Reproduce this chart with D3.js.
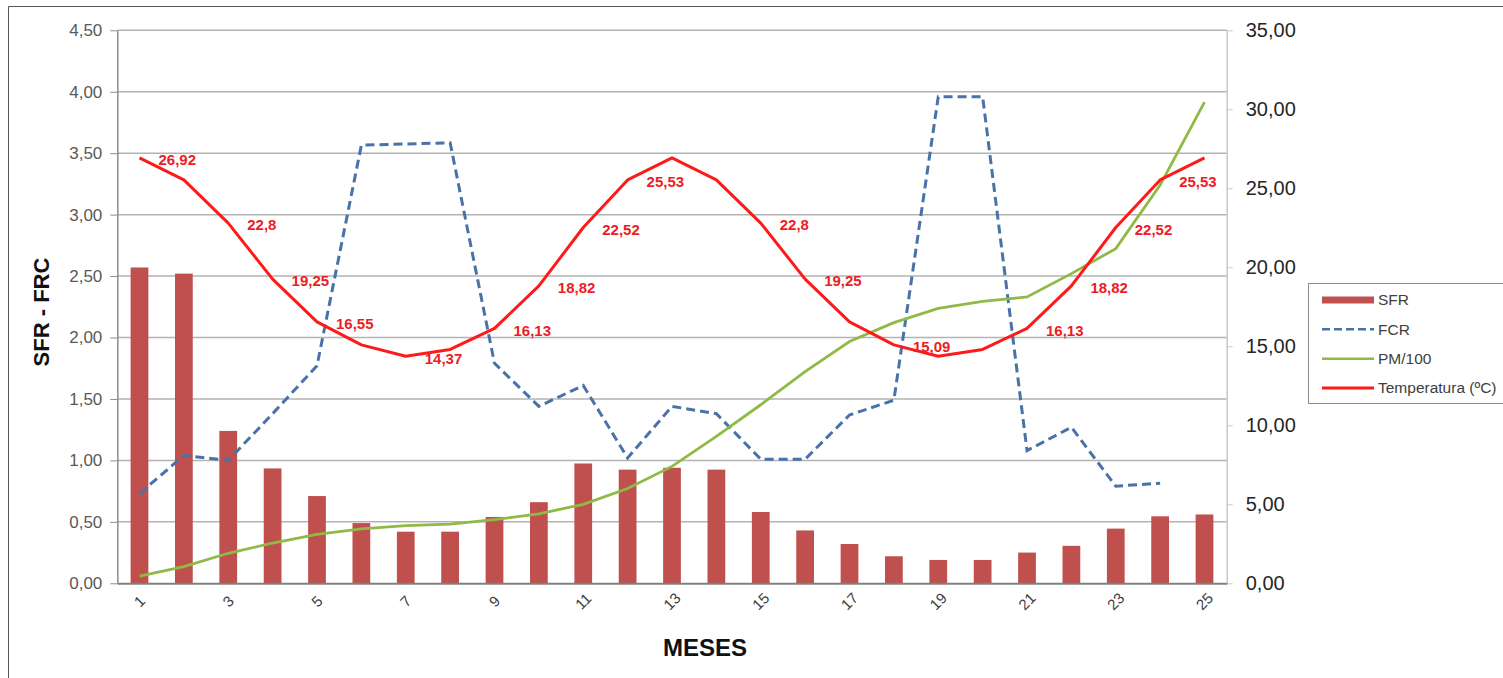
<!DOCTYPE html>
<html>
<head>
<meta charset="utf-8">
<script src="https://cdn.jsdelivr.net/npm/d3@7"></script>
<style>
  html, body { margin: 0; padding: 0; background: #fff; }
  svg { display: block; font-family: "Liberation Sans", Arial, sans-serif; }
</style>
</head>
<body>
<svg id="chart" width="1503" height="678"></svg>
<script>
// ---- data ----
const months = [1,2,3,4,5,6,7,8,9,10,11,12,13,14,15,16,17,18,19,20,21,22,23,24,25];
const sfr = [2.57,2.52,1.24,0.935,0.71,0.49,0.42,0.42,0.54,0.66,0.975,0.925,0.94,0.925,0.58,0.43,0.32,0.22,0.19,0.19,0.25,0.305,0.445,0.545,0.56];
const fcr = [0.73,1.04,1.0,1.38,1.77,3.565,3.575,3.585,1.79,1.44,1.61,1.02,1.44,1.38,1.01,1.01,1.37,1.49,3.96,3.96,1.08,1.27,0.79,0.815,null];
const pm100 = [0.45,1.05,1.9,2.55,3.1,3.45,3.65,3.75,4.03,4.4,5.0,6.0,7.4,9.3,11.3,13.4,15.3,16.5,17.4,17.85,18.12,19.6,21.18,25.2,30.45];
const temperatura = [26.92,25.53,22.8,19.25,16.55,15.09,14.37,14.8,16.13,18.82,22.52,25.53,26.92,25.53,22.8,19.25,16.55,15.09,14.37,14.8,16.13,18.82,22.52,25.53,26.92];
const labeledMonths = [1,3,4,5,7,9,10,11,12,15,16,18,21,22,23,24];
const leftTicks = [0,0.5,1,1.5,2,2.5,3,3.5,4,4.5];
const rightTicks = [0,5,10,15,20,25,30,35];
const xTickLabels = [1,3,5,7,9,11,13,15,17,19,21,23,25];
const seriesNames = ["SFR","FCR","PM/100","Temperatura (ºC)"];
const leftTitle = "SFR - FRC";
const xTitle = "MESES";

// ---- layout ----
const svg = d3.select("#chart");
const plot = {left: 117.3, right: 1226.7, top: 30.3, bottom: 583.3};
const comma = v => d3.format(".2f")(v).replace(".", ",");
const commaRaw = v => String(v).replace(".", ",");

const x = d3.scaleBand().domain(months).range([plot.left, plot.right]).paddingInner(0.6).paddingOuter(0.3);
const xc = d => x(d) + x.bandwidth() / 2;
const yL = d3.scaleLinear().domain([0, 4.5]).range([plot.bottom, plot.top]);
const yR = d3.scaleLinear().domain([0, 35]).range([plot.bottom, plot.top]);

// outer frame
svg.append("path").attr("d", "M8.5,678 L8.5,6.5 L1503,6.5").attr("fill", "none").attr("stroke", "#555").attr("stroke-width", 1);

// gridlines
svg.append("g").selectAll("line").data(leftTicks.filter(t => t > 0)).join("line")
  .attr("x1", plot.left).attr("x2", plot.right)
  .attr("y1", d => yL(d)).attr("y2", d => yL(d))
  .attr("stroke", "#b3b3b3").attr("stroke-width", 1.5);

// bars
svg.append("g").selectAll("rect").data(months).join("rect")
  .attr("x", d => x(d)).attr("width", x.bandwidth())
  .attr("y", (d, i) => yL(sfr[i])).attr("height", (d, i) => plot.bottom - yL(sfr[i]))
  .attr("fill", "#c0504d");

// axes
const gL = svg.append("g").attr("transform", `translate(${plot.left},0)`)
  .call(d3.axisLeft(yL).tickValues(leftTicks).tickFormat(comma).tickSize(7).tickSizeOuter(0).tickPadding(8));
gL.select(".domain").attr("stroke", "#8c8c8c").attr("stroke-width", 1.5);
gL.selectAll(".tick line").attr("stroke", "#8c8c8c");
gL.selectAll("text").attr("font-size", 17).attr("fill", "#595959").attr("font-family", "Liberation Sans, Arial");

const gR = svg.append("g").attr("transform", `translate(${plot.right},0)`)
  .call(d3.axisRight(yR).tickValues(rightTicks).tickFormat(comma).tickSize(6).tickSizeOuter(0).tickPadding(13));
gR.select(".domain").attr("stroke", "#c8c8c8").attr("stroke-width", 1.5);
gR.selectAll(".tick line").attr("stroke", "#c8c8c8");
gR.selectAll("text").attr("font-size", 20).attr("fill", "#262626").attr("font-family", "Liberation Sans, Arial");

const gB = svg.append("g").attr("transform", `translate(0,${plot.bottom})`)
  .call(d3.axisBottom(x).tickValues(xTickLabels).tickSize(0).tickPadding(0));
gB.select(".domain").attr("stroke", "#7f7f7f").attr("stroke-width", 2);
gB.selectAll("text")
  .attr("font-size", 15).attr("fill", "#404040").attr("font-family", "Liberation Sans, Arial")
  .attr("text-anchor", "middle").attr("y", 0).attr("dy", "0.35em")
  .attr("transform", "translate(0,18) rotate(-45)");

// lines
const lineL = d3.line().defined(d => d[1] != null).x(d => xc(d[0])).y(d => yL(d[1]));
const lineR = d3.line().defined(d => d[1] != null).x(d => xc(d[0])).y(d => yR(d[1]));

svg.append("path").datum(months.map((m, i) => [m, fcr[i]]))
  .attr("d", lineL).attr("fill", "none").attr("stroke", "#4a72a8").attr("stroke-width", 3)
  .attr("stroke-dasharray", "9,5");
svg.append("path").datum(months.map((m, i) => [m, pm100[i]]))
  .attr("d", lineR).attr("fill", "none").attr("stroke", "#8fba45").attr("stroke-width", 2.8);
svg.append("path").datum(months.map((m, i) => [m, temperatura[i]]))
  .attr("d", lineR).attr("fill", "none").attr("stroke", "#ff1a1a").attr("stroke-width", 3)
  .attr("stroke-linejoin", "round");

// temperature labels
svg.append("g").selectAll("text").data(labeledMonths).join("text")
  .attr("x", d => xc(d) + 19)
  .attr("y", d => yR(temperatura[d - 1]) + 2)
  .attr("dy", "0.35em")
  .attr("font-size", 15).attr("font-weight", "bold").attr("fill", "#ee1c25")
  .text(d => commaRaw(temperatura[d - 1]));

// titles
svg.append("text").attr("transform", "translate(49,312) rotate(-90)")
  .attr("text-anchor", "middle").attr("font-size", 22).attr("font-weight", "bold").attr("fill", "#111")
  .text(leftTitle);
svg.append("text").attr("x", 705).attr("y", 656)
  .attr("text-anchor", "middle").attr("font-size", 24).attr("font-weight", "bold").attr("fill", "#111")
  .text(xTitle);

// legend
const lg = svg.append("g");
lg.append("rect").attr("x", 1308.5).attr("y", 283.5).attr("width", 210).attr("height", 120)
  .attr("fill", "#fff").attr("stroke", "#8c8c8c").attr("stroke-width", 1);
const legendY = d3.scalePoint().domain(seriesNames).range([300, 388]);
const swatch = [
  {stroke: "#c0504d", w: 7, dash: null},
  {stroke: "#4a72a8", w: 2.5, dash: "8,4"},
  {stroke: "#8fba45", w: 2.5, dash: null},
  {stroke: "#ff1a1a", w: 3, dash: null}
];
seriesNames.forEach((n, i) => {
  const yy = legendY(n);
  lg.append("line").attr("x1", 1322).attr("x2", 1374).attr("y1", yy).attr("y2", yy)
    .attr("stroke", swatch[i].stroke).attr("stroke-width", swatch[i].w)
    .attr("stroke-dasharray", swatch[i].dash);
  lg.append("text").attr("x", 1378).attr("y", yy).attr("dy", "0.35em")
    .attr("font-size", 15.5).attr("fill", "#404040").text(n);
});
</script>
</body>
</html>
